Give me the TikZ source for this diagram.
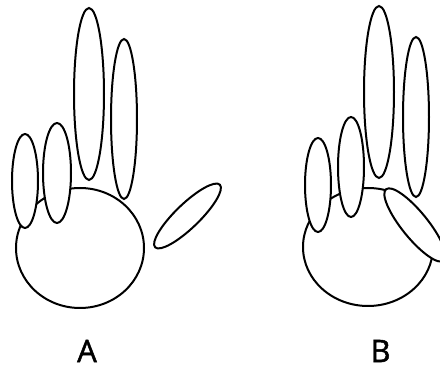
\documentclass[tikz,border=0pt]{standalone}
\usepackage{fontspec}
\setmainfont{Open Sans}
\newfontfamily\labelfont[FakeBold=1.5]{Open Sans}
\tikzset{
  outline/.style={draw=black, line width=2pt},
  digit/.style={outline, fill=white},
  caption/.style={inner sep=0pt, font=\labelfont\fontsize{31}{31}\selectfont}
}

\begin{document}
\begin{tikzpicture}[x=1pt, y=1pt]
  \useasboundingbox (0,0) rectangle (440,367);
  % Hand A: palm, four fingers, thumb held away
  \draw[outline] (80,119) ellipse [x radius=64, y radius=60];
  \foreach \cx/\cy/\rx/\ry in {25/186/13/47, 57/194/14/50, 89/273/15/86, 124/248/13/80} {
    \draw[digit] (\cx,\cy) ellipse [x radius=\rx, y radius=\ry];
  }
  \draw[digit, rotate around={44:(187.5,151)}] (187.5,151) ellipse [x radius=45, y radius=12];
  % Hand B: thumb folded over the palm
  \draw[outline] (368,120) ellipse [x radius=65, y radius=59];
  \foreach \cx/\cy/\rx/\ry in {318/182/13/47, 351/200/13/50, 379/275/15/86, 416/250/13/80} {
    \draw[digit] (\cx,\cy) ellipse [x radius=\rx, y radius=\ry];
  }
  \begin{scope}
    \clip (300,60) rectangle (440,250);
    \draw[digit, rotate around={-51:(415,142)}] (415,142) ellipse [x radius=46, y radius=13];
  \end{scope}
  % Labels
  \node[caption] (labA) at (87,16) {A};
  \node[caption] (labB) at (380.5,16) {B};
\end{tikzpicture}
\end{document}
